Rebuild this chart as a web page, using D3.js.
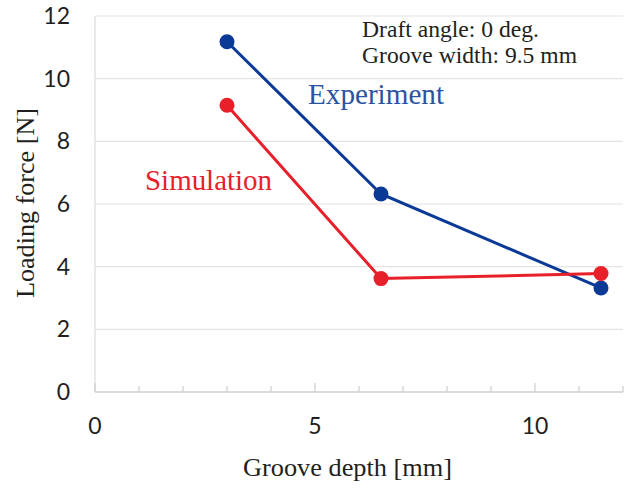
<!DOCTYPE html>
<html>
<head>
<meta charset="utf-8">
<script src="https://cdn.jsdelivr.net/npm/d3@7"></script>
<style>
  body { margin: 0; background: #fff; }
  svg { display: block; }
</style>
</head>
<body>
<svg width="628" height="491"></svg>
<script>
'use strict';

// data
var depths = [3, 6.5, 11.5];
var experiment = [11.18, 6.32, 3.32];
var simulation = [9.15, 3.62, 3.78];
var xTicks = [0, 5, 10];
var yTicks = [0, 2, 4, 6, 8, 10, 12];

var svg = d3.select('svg');

var plotLeft = 95, plotRight = 623, plotTop = 16, plotBottom = 392;
var serif = '"Liberation Serif", "Times New Roman", serif';
var sans = 'Lato, "Open Sans", sans-serif';

var x = d3.scaleLinear().domain([0, 12]).range([plotLeft, plotRight]);
var y = d3.scaleLinear().domain([0, 12]).range([plotBottom, plotTop]);

// 网格线
svg.append('g')
    .selectAll('line')
    .data(yTicks.filter(function (d) { return d > 0; }))
    .enter()
    .append('line')
    .attr('x1', plotLeft)
    .attr('x2', plotRight)
    .attr('y1', function (d) { return y(d); })
    .attr('y2', function (d) { return y(d); })
    .attr('stroke', '#e3e3e3')
    .attr('stroke-width', 1.2);

// 左边竖线
svg.append('line')
    .attr('x1', plotLeft).attr('x2', plotLeft)
    .attr('y1', plotTop).attr('y2', plotBottom)
    .attr('stroke', '#dcdcdc')
    .attr('stroke-width', 1.2);

// x 轴
svg.append('line')
    .attr('x1', plotLeft).attr('x2', plotRight)
    .attr('y1', plotBottom).attr('y2', plotBottom)
    .attr('stroke', '#cfcfcf')
    .attr('stroke-width', 1.5);

svg.append('g')
    .selectAll('line')
    .data(d3.range(0, 13))
    .enter()
    .append('line')
    .attr('x1', function (d) { return x(d); })
    .attr('x2', function (d) { return x(d); })
    .attr('y1', plotBottom)
    .attr('y2', function (d) { return d % 5 === 0 ? plotBottom - 9 : plotBottom - 6; })
    .attr('stroke', '#cfcfcf')
    .attr('stroke-width', 1.2);

// 刻度文字
svg.append('g')
    .selectAll('text')
    .data(yTicks)
    .enter()
    .append('text')
    .text(function (d) { return d; })
    .attr('x', 70)
    .attr('y', function (d) { return y(d) + 8; })
    .attr('text-anchor', 'end')
    .attr('font-family', sans)
    .attr('font-size', 23)
    .attr('fill', '#231f20');

svg.append('g')
    .selectAll('text')
    .data(xTicks)
    .enter()
    .append('text')
    .text(function (d) { return d; })
    .attr('x', function (d) { return x(d); })
    .attr('y', 434)
    .attr('text-anchor', 'middle')
    .attr('font-family', sans)
    .attr('font-size', 23)
    .attr('fill', '#231f20');

// 轴标题
svg.append('text')
    .text('Groove depth [mm]')
    .attr('x', 243)
    .attr('y', 476)
    .attr('textLength', 209)
    .attr('lengthAdjust', 'spacingAndGlyphs')
    .attr('font-family', serif)
    .attr('font-size', 25)
    .attr('fill', '#231f20');

svg.append('text')
    .text('Loading force [N]')
    .attr('transform', 'translate(34,298) rotate(-90)')
    .attr('textLength', 190)
    .attr('lengthAdjust', 'spacingAndGlyphs')
    .attr('font-family', serif)
    .attr('font-size', 25)
    .attr('fill', '#231f20');

// 折线和点
var series = [
    { values: experiment, color: '#0b3a96' },
    { values: simulation, color: '#e8202a' }
];

var line = d3.line()
    .x(function (d, i) { return x(depths[i]); })
    .y(function (d) { return y(d); });

series.forEach(function (s) {
    svg.append('path')
        .attr('d', line(s.values))
        .attr('fill', 'none')
        .attr('stroke', s.color)
        .attr('stroke-width', 3);

    svg.append('g')
        .selectAll('circle')
        .data(s.values)
        .enter()
        .append('circle')
        .attr('cx', function (d, i) { return x(depths[i]); })
        .attr('cy', function (d) { return y(d); })
        .attr('r', 7.5)
        .attr('fill', s.color);
});

// 标注文字
svg.append('text')
    .text('Experiment')
    .attr('x', 308)
    .attr('y', 104)
    .attr('textLength', 136)
    .attr('lengthAdjust', 'spacingAndGlyphs')
    .attr('font-family', serif)
    .attr('font-size', 29)
    .attr('fill', '#2b53a3');

svg.append('text')
    .text('Simulation')
    .attr('x', 145)
    .attr('y', 190)
    .attr('textLength', 127)
    .attr('lengthAdjust', 'spacingAndGlyphs')
    .attr('font-family', serif)
    .attr('font-size', 29)
    .attr('fill', '#e8202a');

svg.append('text')
    .text('Draft angle: 0 deg.')
    .attr('x', 362)
    .attr('y', 37)
    .attr('textLength', 177)
    .attr('lengthAdjust', 'spacingAndGlyphs')
    .attr('font-family', serif)
    .attr('font-size', 23.5)
    .attr('fill', '#231f20');

svg.append('text')
    .text('Groove width: 9.5 mm')
    .attr('x', 362)
    .attr('y', 63)
    .attr('textLength', 215)
    .attr('lengthAdjust', 'spacingAndGlyphs')
    .attr('font-family', serif)
    .attr('font-size', 23.5)
    .attr('fill', '#231f20');
</script>
</body>
</html>
